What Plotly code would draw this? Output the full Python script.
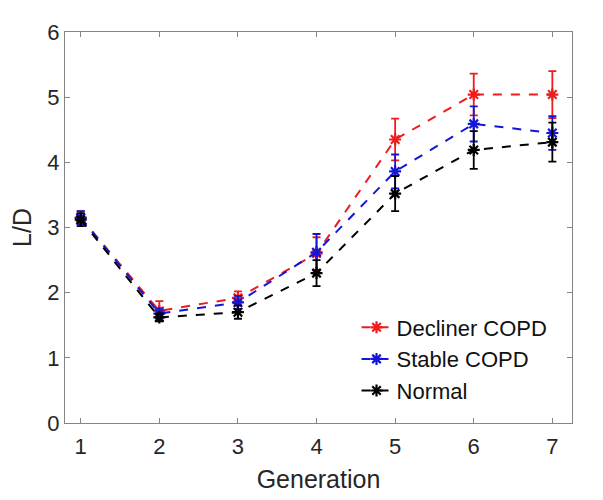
import plotly.graph_objects as go

generation = [1, 2, 3, 4, 5, 6, 7]
decliner = [3.15, 1.72, 1.92, 2.60, 4.35, 5.04, 5.04]
decliner_err = [0.10, 0.15, 0.10, 0.25, 0.32, 0.32, 0.36]
stable = [3.15, 1.68, 1.85, 2.62, 3.86, 4.59, 4.45]
stable_err = [0.10, 0.08, 0.10, 0.28, 0.26, 0.27, 0.26]
normal = [3.12, 1.62, 1.70, 2.30, 3.52, 4.19, 4.31]
normal_err = [0.10, 0.06, 0.10, 0.20, 0.27, 0.29, 0.30]

series = [
    ("Decliner COPD", decliner, decliner_err, "#ee1c1c"),
    ("Stable COPD", stable, stable_err, "#1515d8"),
    ("Normal", normal, normal_err, "#000000"),
]

fig = go.Figure()
for name, vals, err, col in series:
    fig.add_trace(go.Scatter(
        x=generation, y=vals, name=name, mode="lines+markers",
        line=dict(color=col, width=2, dash="dash"),
        marker=dict(symbol="asterisk-open", size=10, color=col, line=dict(color=col, width=2.2)),
        error_y=dict(type="data", array=err, visible=True, color=col, thickness=1.8, width=4),
    ))

axis_common = dict(
    showline=True, linecolor="#858585", linewidth=1.2, mirror="ticks",
    ticks="inside", ticklen=5, tickcolor="#858585", showgrid=False, zeroline=False,
    tickfont=dict(family="Liberation Sans, Arial", size=22, color="#262626"),
    title_font=dict(family="Liberation Sans, Arial", size=25, color="#262626"),
)

fig.update_layout(
    width=595, height=492,
    margin=dict(l=57, r=31, t=15, b=77),
    plot_bgcolor="white", paper_bgcolor="white",
    xaxis=dict(range=[0.8, 7.25], tickvals=generation, ticklabelstandoff=3,
               title=dict(text="Generation", standoff=12), **axis_common),
    yaxis=dict(range=[0, 6], tickvals=[0, 1, 2, 3, 4, 5, 6], title=dict(text="L/D", standoff=8), **axis_common),
    legend=dict(x=0.575, y=0.298, xanchor="left", yanchor="top", bgcolor="rgba(0,0,0,0)",
                font=dict(family="Liberation Sans, Arial", size=22, color="#111111"),
                itemwidth=30, tracegroupgap=0),
    showlegend=True,
)

fig.write_html("out.html")
